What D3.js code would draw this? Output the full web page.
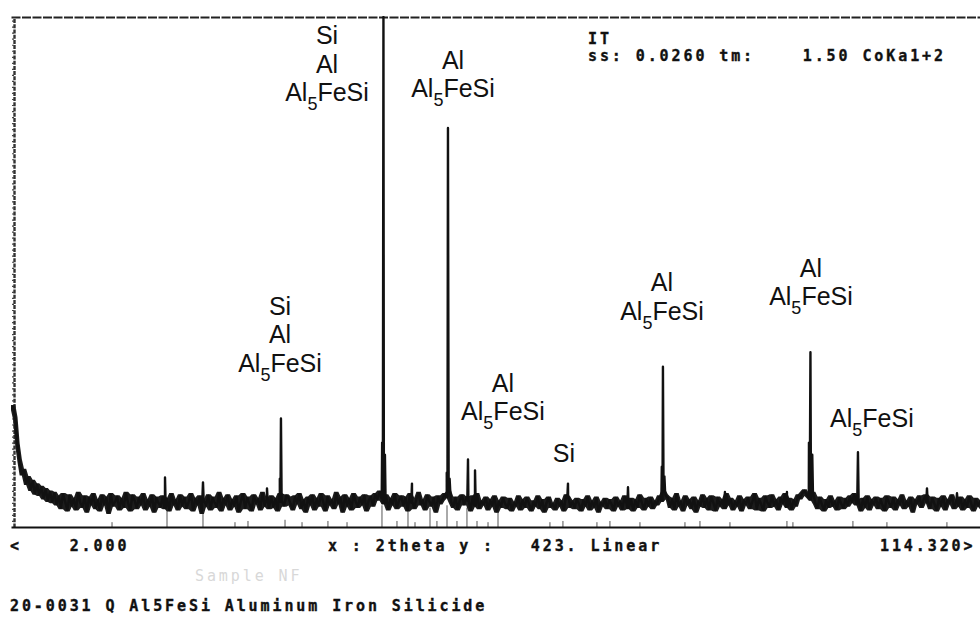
<!DOCTYPE html>
<html><head><meta charset="utf-8">
<script src="https://cdn.jsdelivr.net/npm/d3@7"></script>
<style>body{margin:0;background:#fff}svg{display:block}</style>
</head><body>
<svg id="chart" width="980" height="617"></svg>
<script>
// ---- data (2theta in degrees, intensity in counts) ----
const thetaStart = 2.0;
const thetaStep = 0.25;
const xDomain = [2.000, 114.320];
const yMax = 423;
// background intensity sampled every 0.25 deg from 2.00 deg
const baseline = [
 98,100,90,68,55,44,47,36,41,31,38,28,35,27,33,24,31,22,29,21,
 28,19,25,16,27,21,14,26,18,23,15,28,20,17,25,13,24,19,27,16,
 22,14,26,19,24,12,27,18,21,25,15,23,17,28,20,14,26,22,16,24,
 19,27,15,22,18,26,13,24,20,17,25,16,23,14,27,19,22,15,26,18,
 24,16,21,27,14,23,19,25,12,22,18,26,15,24,20,17,28,14,23,19,
 26,15,22,18,25,13,21,27,16,24,19,14,26,20,23,15,28,18,22,16,
 25,17,23,14,27,21,18,26,24,19,15,25,20,27,16,22,13,24,19,26,
 15,23,18,27,21,14,25,19,22,16,28,20,24,13,26,18,23,15,27,21,
 17,24,19,26,14,22,25,18,27,23,29,24,20,26,15,23,19,27,16,22,
 25,18,24,14,27,20,16,23,28,19,22,15,26,21,18,24,13,25,20,23,
 27,25,29,21,17,24,15,22,26,19,24,22,14,25,18,27,16,21,19,24,
 15,22,18,25,13,21,17,24,19,16,23,14,20,18,25,15,22,17,24,19,
 14,21,18,25,16,22,13,20,24,17,19,15,23,18,21,14,26,24,17,21,
 16,23,19,14,22,18,25,15,21,17,24,13,20,18,23,16,22,19,14,24,
 18,21,15,25,19,16,23,14,22,17,26,20,15,23,18,24,16,21,19,25,
 22,29,26,24,17,23,15,27,18,21,14,25,19,22,16,24,13,21,18,26,
 17,23,15,25,20,14,24,18,22,16,27,19,23,15,21,18,25,14,22,19,
 24,16,21,27,15,23,19,14,25,20,17,26,18,22,15,24,20,27,17,23,
 15,22,18,26,24,28,30,27,25,23,28,20,16,24,19,14,22,17,25,18,
 21,15,24,19,16,23,18,25,21,27,19,22,14,23,17,25,15,22,19,24,
 16,23,18,14,25,20,17,24,15,22,19,26,16,21,18,24,13,22,20,25,
 17,23,26,21,16,24,19,14,23,18,25,15,22,20,26,16,21,18,24,15,
 22,17,25,19,14,23,18,21,16,24
];
// diffraction peaks: [2theta, top intensity]
const peaks = [
 [19.76,41],[24.14,37],[31.52,32],[33.00,40],[33.13,90],
 [44.80,70],[44.95,423],[45.12,60],[48.24,36],
 [52.25,45],[52.39,331],[52.58,40],[54.70,56],[55.51,47],
 [66.23,36],[73.15,33],[77.05,50],[77.18,133],[77.35,42],
 [84.33,29],[91.48,29],[94.02,70],[94.19,145],[94.40,60],
 [99.67,62],[107.63,32],[111.09,28]
];
// reference card 20-0031 stick lines: [2theta, height]
const sticks = [
 [13.65,4],[19.99,16],[24.14,16],[27.83,4],[29.33,5],[33.60,6],[35.56,4],[38.55,5],
 [40.75,4],[44.78,18],[46.51,5],[47.78,16],[48.59,4],[50.32,16],[51.12,5],[52.28,18],
 [53.43,5],[54.58,16],[55.74,5],[57.01,4],[58.16,14],[64.15,4],[65.65,5],[69.57,4],
 [71.07,5],[74.53,4],[79.72,4],[81.45,5],[84.91,4],[91.48,5],[92.17,4],[99.09,5],
 [103.01,4],[109.93,4]
];
// phase annotations
const labelTheta = [38.44, 52.97, 33.02, 58.73, 65.77, 77.07, 94.25, 101.28];
const labelLines = [
 ["Si","Al","Al5FeSi"],
 ["Al","Al5FeSi"],
 ["Si","Al","Al5FeSi"],
 ["Al","Al5FeSi"],
 ["Si"],
 ["Al","Al5FeSi"],
 ["Al","Al5FeSi"],
 ["Al5FeSi"]
];
const labelCount = [353.3, 356.6, 128.6, 88.7, 53.9, 171.7, 184.1, 82.9];
// instrument texts
const headerLines = ["IT", "ss: 0.0260 tm:    1.50 CoKa1+2"];
const axisLeftText = "<    2.000";
const axisMidText = "x : 2theta y :   423. Linear";
const axisRightText = "114.320>";
const faintText = "Sample NF";
const cardText = "20-0031 Q Al5FeSi Aluminum Iron Silicide";

// ---- drawing ----
const svg = d3.select("#chart");
svg.append("rect").attr("width",980).attr("height",617).attr("fill","#fff");

const x = d3.scaleLinear().domain(xDomain).range([11, 985]);
const y = d3.scaleLinear().domain([0, yMax]).range([527, 17]);

svg.append("defs").append("clipPath").attr("id","plotclip")
  .append("rect").attr("x",x(xDomain[0])).attr("y",y(yMax)-1)
  .attr("width",x(xDomain[1])-x(xDomain[0])).attr("height",y(0)-y(yMax)+1);

// frame: top (dashed), left (dotted ticks), bottom axis
const topAx = svg.append("g").attr("transform",`translate(0,${y(yMax)})`)
  .call(d3.axisTop(x).ticks(0).tickSizeOuter(0));
topAx.select(".domain").attr("stroke","#222").attr("stroke-width",2.2).attr("stroke-dasharray","9,1.5");

const leftAx = svg.append("g").attr("transform",`translate(${x(xDomain[0])+3},0)`)
  .call(d3.axisLeft(y).ticks(70).tickSize(2).tickSizeOuter(0).tickFormat(""));
leftAx.select(".domain").attr("stroke","#333").attr("stroke-width",2.4).attr("stroke-dasharray","4,1.2");
leftAx.selectAll(".tick line").attr("stroke","#444").attr("stroke-width",1.2);

// card sticks
svg.append("g").selectAll("line").data(sticks).join("line")
  .attr("x1",d=>x(d[0])).attr("x2",d=>x(d[0]))
  .attr("y1",y(0)).attr("y2",d=>y(d[1]))
  .attr("stroke","#555").attr("stroke-width",1);

// noise band: local spread of neighbouring background samples
const band = baseline.map((v,i)=>{
  const w = baseline.slice(Math.max(0,i-1), Math.min(baseline.length, i+2));
  return {t: thetaStart + i*thetaStep, lo: d3.min(w), hi: d3.max(w)};
});
svg.append("path").datum(band).attr("clip-path","url(#plotclip)")
  .attr("d", d3.area().x(d=>x(d.t)).y0(d=>y(d.lo)+1.5).y1(d=>y(d.hi)-1.5))
  .attr("fill","#1c1c1c");

// intensity trace
const pts = baseline.map((v,i)=>({t: thetaStart + i*thetaStep, v}));
function baseAt(t){
  const i = Math.round((t-thetaStart)/thetaStep);
  return baseline[Math.max(0, Math.min(baseline.length-1, i))];
}
peaks.forEach(([t,top])=>{
  const b = baseAt(t);
  pts.push({t:t-0.08, v:b},{t:t, v:top},{t:t+0.08, v:b});
});
pts.sort((a,b)=>a.t-b.t);
const line = d3.line().x(d=>x(d.t)).y(d=>y(d.v));
svg.append("path").datum(pts).attr("clip-path","url(#plotclip)")
  .attr("d",line).attr("fill","none").attr("stroke","#111")
  .attr("stroke-width",2.4).attr("stroke-linejoin","round");

const botAx = svg.append("g").attr("transform",`translate(0,${y(0)})`)
  .call(d3.axisBottom(x).ticks(0).tickSizeOuter(0));
botAx.select(".domain").attr("stroke","#111").attr("stroke-width",2.2);

// phase labels
const lineGap = 28.5;
labelTheta.forEach((t,i)=>{
  const lines = labelLines[i];
  const n = lines.length;
  lines.forEach((s,j)=>{
    const txt = svg.append("text")
      .attr("x", x(t)).attr("y", y(labelCount[i]) - (n-1-j)*lineGap)
      .attr("text-anchor","middle")
      .attr("font-family","Liberation Sans, Arial, sans-serif")
      .attr("font-size",25).attr("fill","#111");
    const m = s.match(/^(Al)(5)(FeSi)$/);
    if (m) {
      txt.append("tspan").text(m[1]);
      txt.append("tspan").attr("font-size",18).attr("dy",9).text(m[2]);
      txt.append("tspan").attr("dy",-9).text(m[3]);
    } else {
      txt.text(s);
    }
  });
});

// monospaced instrument texts
function mono(str, xx, yy, fill){
  return svg.append("text").attr("x",xx).attr("y",yy)
    .attr("font-family","DejaVu Sans Mono, Liberation Mono, monospace")
    .attr("font-weight","bold").attr("font-size",15)
    .attr("letter-spacing",2.9).attr("fill",fill||"#111")
    .attr("stroke",fill||"#111").attr("stroke-width",0.35)
    .attr("xml:space","preserve").style("white-space","pre").text(str);
}
mono(headerLines[0], 588, 44);
mono(headerLines[1], 588, 61);
mono(axisLeftText, 10, 551);
mono(axisMidText, 328, 551);
mono(axisRightText, 880, 551);
mono(faintText, 195, 581, "#d8d8d8").attr("font-weight","normal").attr("stroke-width",0);
mono(cardText, 10, 611);
</script>
</body></html>
